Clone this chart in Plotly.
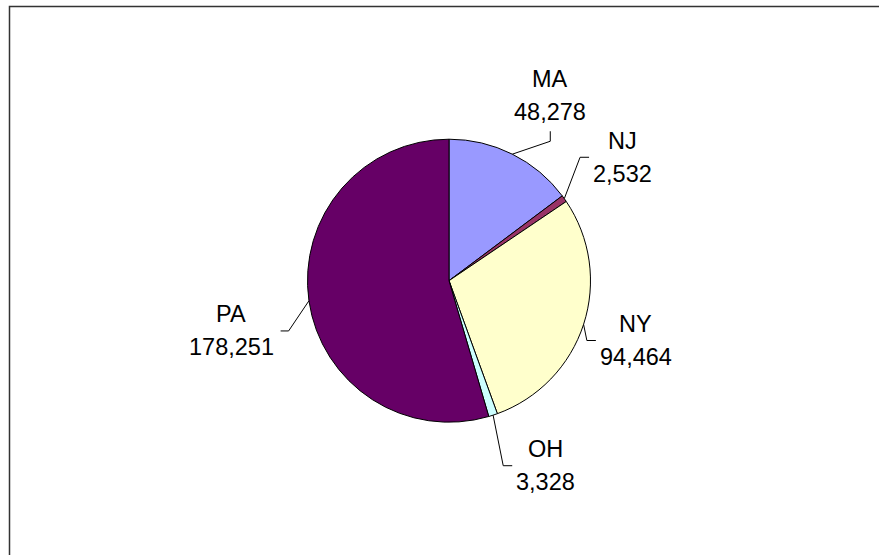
import numpy as np
import plotly.graph_objects as go

# ---- data ----
states = ["MA", "NJ", "NY", "OH", "PA"]
counts = [48278, 2532, 94464, 3328, 178251]
colors = ["#9999FF", "#993366", "#FFFFCC", "#CCFFFF", "#660066"]

# ---- layout settings (pixels) ----
W, H = 879, 555
CX, CY, R = 449.0, 280.7, 141.5
FONT = 23.5
FAMILY = "Liberation Sans, Arial, sans-serif"
GAP = 33
LINE_PITCH = 33
label_nudge = [(6, 5), (0, 0), (-19, -7), (32, -12), (0, 19)]

CHAR_W = {"M": 0.833, "A": 0.667, "N": 0.722, "J": 0.5, "Y": 0.667,
          "O": 0.778, "H": 0.722, "P": 0.667, ",": 0.278}


def text_w(s):
    return sum(CHAR_W.get(c, 0.556) for c in s) * FONT


def px(x):
    return x / W


def py(y):
    return 1 - y / H


vals = np.array(counts, dtype=float)
frac = vals / vals.sum()
frac_mid = np.cumsum(frac) - frac / 2
theta = 2 * np.pi * frac_mid

fig = go.Figure(go.Pie(
    labels=states,
    values=counts,
    sort=False,
    direction="clockwise",
    rotation=0,
    marker=dict(colors=colors, line=dict(color="#000000", width=1)),
    textinfo="none",
    hoverinfo="label+value",
    showlegend=False,
    domain=dict(x=[px(CX - R), px(CX + R)], y=[py(CY + R), py(CY - R)]),
))

shapes = []
annotations = []
cap_h = 0.716 * FONT
for name, v, th, (nx, ny) in zip(states, counts, theta, label_nudge):
    s, c = np.sin(th), np.cos(th)
    val_txt = f"{v:,}"
    w = max(text_w(name), text_w(val_txt))
    h = LINE_PITCH + cap_h
    ext = abs(s) * w / 2 + abs(c) * h / 2
    D = R + GAP + ext
    bx = CX + D * s + nx
    by = CY - D * c + ny
    # leader line
    x0, y0 = CX + R * s, CY - R * c
    if c > 0.85:
        x1, y1 = bx, by + h / 2 + 21
        x2, y2 = bx, by + h / 2 + 11
    elif s > 0:
        x1, y1 = bx - w / 2 - 13, by
        x2, y2 = bx - w / 2 - 4, by
    else:
        x1, y1 = bx + w / 2 + 15, by
        x2, y2 = bx + w / 2 + 7, by
    shapes.append(dict(
        type="path", xref="paper", yref="paper",
        path=f"M {px(x0)} {py(y0)} L {px(x1)} {py(y1)} L {px(x2)} {py(y2)}",
        line=dict(color="#000000", width=1),
    ))
    for txt, yy in ((name, by - LINE_PITCH / 2), (val_txt, by + LINE_PITCH / 2)):
        annotations.append(dict(
            x=px(bx), y=py(yy), xref="paper", yref="paper",
            text=txt, showarrow=False, xanchor="center", yanchor="middle",
            font=dict(family=FAMILY, size=FONT, color="#000000"),
        ))

# chart border (only top/left edges fall inside the view)
shapes.append(dict(
    type="rect", xref="paper", yref="paper",
    x0=px(9.5), y0=-0.05, x1=1.05, y1=py(6.5),
    line=dict(color="#333333", width=1.5), fillcolor="rgba(0,0,0,0)",
))

fig.update_layout(
    width=W, height=H, autosize=False,
    margin=dict(l=0, r=0, t=0, b=0),
    paper_bgcolor="#FFFFFF", plot_bgcolor="#FFFFFF",
    shapes=shapes, annotations=annotations,
)

fig.write_html(
    "out.html",
    config={"displayModeBar": False},
    post_script="document.body.style.margin='0';document.body.style.overflow='hidden';",
)
